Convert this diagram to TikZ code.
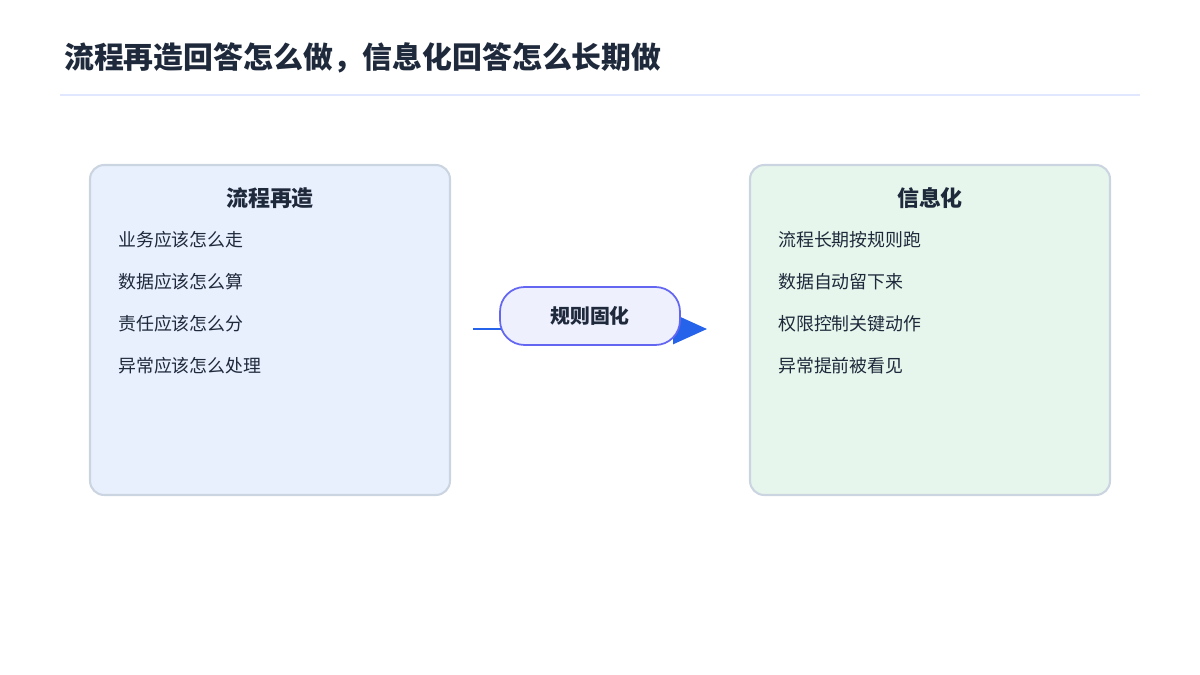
\documentclass[tikz,border=0pt]{standalone}
\usepackage{fontspec}
\setmainfont{Noto Sans CJK SC}
\usetikzlibrary{arrows.meta,positioning}
\definecolor{ink}{HTML}{1E293B}
\definecolor{rulec}{HTML}{E0E7FF}
\definecolor{edgec}{HTML}{CBD5E1}
\definecolor{bluefill}{HTML}{E8F0FE}
\definecolor{greenfill}{HTML}{E7F6EC}
\definecolor{arrowc}{HTML}{2563EB}
\definecolor{pillc}{HTML}{6366F1}
\definecolor{pillfill}{HTML}{EEF0FE}
\tikzset{
  panel/.style={draw=edgec,line width=1.2pt,rounded corners=8pt,minimum width=7.2cm,minimum height=6.6cm},
  head/.style={font=\fontsize{12.5}{15}\selectfont\bfseries,text=ink},
  item/.style={font=\fontsize{10.2}{12}\selectfont,text=ink,anchor=west},
  pill/.style={draw=pillc,fill=pillfill,line width=1pt,rounded corners=14pt,minimum width=3.6cm,minimum height=1.16cm,font=\fontsize{11.3}{13}\selectfont\bfseries,text=ink}
}
\begin{document}
\begin{tikzpicture}[x=0.02cm,y=-0.02cm]
	\useasboundingbox (0,0) rectangle (1200,675);

	\node[anchor=west,font=\fontsize{17}{20}\selectfont\bfseries,text=ink] (title) at (58,58) {流程再造回答怎么做，信息化回答怎么长期做};
	\draw[rulec,line width=1.7pt] (60,95) -- (1140,95);

	% left panel
	\node[panel,fill=bluefill] (left) at (270,330) {};
	\node[head] (lhead) at (270,198) {流程再造};
	\foreach \t [count=\i] in {业务应该怎么走,数据应该怎么算,责任应该怎么分,异常应该怎么处理}
		\node[item] (l\i) at (112,198+42*\i) {\t};

	% right panel
	\node[panel,fill=greenfill] (right) at (930,330) {};
	\node[head] (rhead) at (930,198) {信息化};
	\foreach \t [count=\i] in {流程长期按规则跑,数据自动留下来,权限控制关键动作,异常提前被看见}
		\node[item] (r\i) at (772,198+42*\i) {\t};

	% connector
	\coordinate (a) at (473,329);
	\coordinate (b) at (707,329);
	\draw[arrowc,line width=1.7pt,-{Triangle[length=0.68cm,width=0.6cm]}] (a) -- (b);
	\node[pill] (mid) at (590,316) {规则固化};
\end{tikzpicture}
\end{document}
